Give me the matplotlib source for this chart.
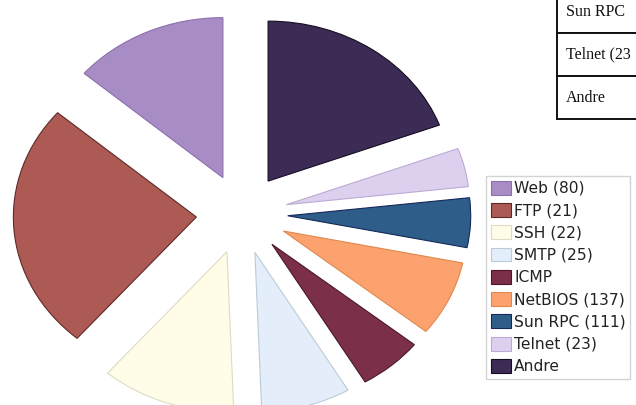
#Exploded pie chart of traffic per service, with the legend and a clipped table
import numpy as np
import matplotlib
matplotlib.use('Agg')
import matplotlib.pyplot as plt

#Data (share of traffic in percent)
labels = ['Web (80)', 'FTP (21)', 'SSH (22)', 'SMTP (25)', 'ICMP',
          'NetBIOS (137)', 'Sun RPC (111)', 'Telnet (23)', 'Andre']
shares = [13.7, 25.0, 11.9, 7.9, 5.7, 7.6, 5.0, 3.9, 19.3]
table_rows = ['Sun RPC', 'Telnet (23', 'Andre']

colors = ['#a88cc6', '#ad5a55', '#fffde8', '#e4eefa', '#7c2f48',
          '#fba26e', '#2f5d8a', '#ddd0ee', '#3c2b55']
edges = ['#8c70aa', '#5c2a28', '#dcdcc4', '#bccbd9', '#4a1828',
         '#e0884f', '#14285a', '#bcaad4', '#160d22']

fig = plt.figure(figsize=(6.36, 4.05), dpi=100)
ax = fig.add_axes([0, 0, 1, 1])

wedges, _ = ax.pie(shares, explode=[0.25] * len(shares), colors=colors,
                   startangle=90, counterclock=True, radius=1,
                   wedgeprops=dict(linewidth=0.8))
for w, ec in zip(wedges, edges):
    w.set_edgecolor(ec)

#the scan is a bit squashed vertically, so no equal aspect here
ax.set_aspect('auto')
ax.set_xlim(-242 / 183, 394 / 183)
ax.set_ylim(-191 / 160, 214 / 160)
ax.axis('off')

#Legend
leg = ax.legend(wedges, labels, loc='upper left',
                bbox_to_anchor=(486 / 636, 1 - 176 / 405),
                bbox_transform=fig.transFigure,
                prop=dict(family='DejaVu Sans', size=11.2),
                handlelength=1.3, handleheight=1.0, handletextpad=0.2,
                labelspacing=0.45, borderpad=0.3, borderaxespad=0,
                fancybox=False, frameon=True)
leg.get_frame().set_edgecolor('#c8c8c8')
leg.get_frame().set_linewidth(1.0)
for t in leg.get_texts():
    t.set_color('#222222')

#Table in the top right corner (cut off by the page)
tbl = ax.table(cellText=[[r] for r in table_rows], cellLoc='left',
               bbox=[557 / 636, 1 - 119 / 405, 130 / 636, 129 / 405])
tbl.auto_set_font_size(False)
for (r, c), cell in tbl.get_celld().items():
    cell.set_edgecolor('#111111')
    cell.set_linewidth(1.4)
    cell.set_facecolor('white')
    cell.get_text().set_fontfamily('Liberation Serif')
    cell.get_text().set_fontsize(11.5)
    cell.get_text().set_color('#111111')
    cell.PAD = 0.07

fig.savefig('out.png', dpi=100)
